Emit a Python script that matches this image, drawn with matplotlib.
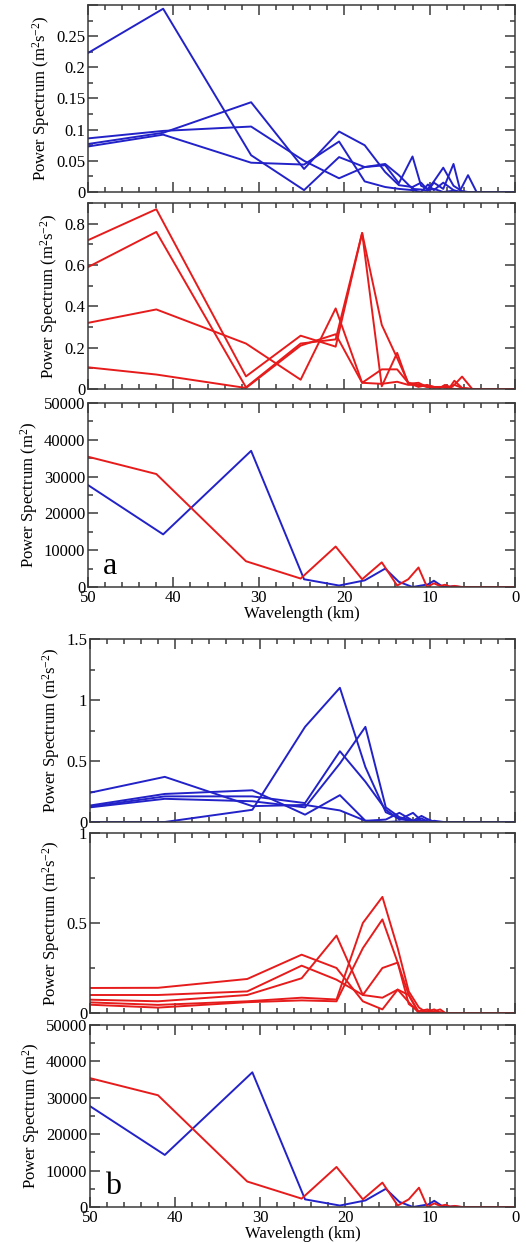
#!/usr/bin/env python3
# -*- coding: utf-8 -*-
import numpy as np
import matplotlib
matplotlib.use('Agg')
import matplotlib.pyplot as plt
from matplotlib.ticker import MultipleLocator, FuncFormatter

plt.rcParams['font.family'] = ['Liberation Serif', 'DejaVu Serif']
plt.rcParams['mathtext.fontset'] = 'custom'
plt.rcParams['mathtext.rm'] = 'Liberation Serif'
plt.rcParams['mathtext.it'] = 'Liberation Serif:italic'

BLUE = '#2222c8'
RED = '#e61c1c'
EDGE = '#3a3a3a'

# wavelength grids (km) for the two sets of curves
x_blue = [50, 41.2, 30.9, 24.7, 20.6, 17.6, 15.2, 13.6, 12.0, 11.0, 10.2, 9.5, 8.4, 7.2, 6.4, 5.5, 4.5, 0]
x_red = [50, 42.0, 31.5, 25.1, 21.0, 17.9, 15.6, 13.8, 12.5, 11.3, 10.3, 9.5, 8.8, 8.2, 7.6, 7.1, 6.2, 5.0, 3.0, 0]

# panel a1 (blue, m2 s-2)
a1_1 = [0.223, 0.294, 0.059, 0.003, 0.056, 0.040, 0.045, 0.027, 0.005, 0.004, 0.002, 0.015, 0.005, 0.045, 0.002, 0.0, 0.0, 0.0]
a1_2 = [0.086, 0.098, 0.105, 0.050, 0.022, 0.040, 0.043, 0.014, 0.057, 0.010, 0.005, 0.017, 0.039, 0.010, 0.003, 0.027, 0.0, 0.0]
a1_3 = [0.077, 0.095, 0.144, 0.037, 0.097, 0.075, 0.032, 0.011, 0.008, 0.015, 0.003, 0.005, 0.0, 0.002, 0.0, 0.0, 0.0, 0.0]
a1_4 = [0.073, 0.092, 0.047, 0.044, 0.081, 0.017, 0.008, 0.005, 0.003, 0.0, 0.012, 0.003, 0.015, 0.003, 0.0, 0.0, 0.0, 0.0]

# panel a2 (red, m2 s-2)
a2_1 = [0.72, 0.87, 0.061, 0.258, 0.205, 0.755, 0.31, 0.15, 0.03, 0.02, 0.015, 0.01, 0.01, 0.005, 0.01, 0.02, 0.005, 0.0, 0.0, 0.0]
a2_2 = [0.59, 0.76, 0.008, 0.22, 0.24, 0.755, 0.013, 0.175, 0.025, 0.03, 0.01, 0.005, 0.01, 0.01, 0.005, 0.02, 0.06, 0.0, 0.0, 0.0]
a2_3 = [0.32, 0.385, 0.22, 0.045, 0.39, 0.03, 0.095, 0.095, 0.03, 0.01, 0.02, 0.01, 0.005, 0.02, 0.01, 0.04, 0.005, 0.0, 0.0, 0.0]
a2_4 = [0.105, 0.07, 0.005, 0.21, 0.265, 0.03, 0.025, 0.035, 0.02, 0.02, 0.01, 0.01, 0.005, 0.015, 0.005, 0.0, 0.0, 0.0, 0.0, 0.0]

# panel a3 / b3 (m2)
h_blue = [27700, 14300, 37000, 2100, 400, 1800, 5000, 1400, 0, 400, 700, 1700, 0, 200, 0, 0, 0, 0]
h_red = [35400, 30700, 7000, 2300, 11000, 2100, 6700, 400, 2100, 5300, 0, 1000, 300, 600, 100, 300, 0, 0, 0, 0]

# panel b1 (blue, m2 s-2)
b1_1 = [0.24, 0.37, 0.13, 0.14, 0.095, 0.01, 0.0, 0.005, 0.0, 0.01, 0.0, 0.0, 0.0, 0.0, 0.0, 0.0, 0.0, 0.0]
b1_2 = [0.135, 0.23, 0.26, 0.06, 0.22, 0.01, 0.02, 0.075, 0.01, 0.0, 0.02, 0.0, 0.0, 0.0, 0.0, 0.0, 0.0, 0.0]
b1_3 = [0.125, 0.21, 0.21, 0.155, 0.58, 0.33, 0.10, 0.02, 0.075, 0.01, 0.0, 0.01, 0.0, 0.0, 0.0, 0.0, 0.0, 0.0]
b1_4 = [0.12, 0.19, 0.17, 0.12, 0.48, 0.78, 0.12, 0.04, 0.01, 0.05, 0.02, 0.0, 0.0, 0.0, 0.0, 0.0, 0.0, 0.0]
b1_5 = [0.0, 0.0, 0.10, 0.78, 1.10, 0.45, 0.08, 0.03, 0.0, 0.03, 0.0, 0.0, 0.0, 0.0, 0.0, 0.0, 0.0, 0.0]

# panel b2 (red, m2 s-2)
b2_1 = [0.139, 0.14, 0.189, 0.324, 0.25, 0.065, 0.02, 0.13, 0.10, 0.0, 0.01, 0.0, 0.005, 0.0, 0.0, 0.0, 0.0, 0.0, 0.0, 0.0]
b2_2 = [0.10, 0.10, 0.12, 0.263, 0.185, 0.10, 0.25, 0.28, 0.05, 0.01, 0.02, 0.005, 0.0, 0.0, 0.0, 0.0, 0.0, 0.0, 0.0, 0.0]
b2_3 = [0.074, 0.065, 0.10, 0.193, 0.43, 0.10, 0.085, 0.13, 0.06, 0.0, 0.01, 0.02, 0.0, 0.0, 0.0, 0.0, 0.0, 0.0, 0.0, 0.0]
b2_4 = [0.059, 0.045, 0.065, 0.085, 0.075, 0.50, 0.645, 0.36, 0.12, 0.03, 0.0, 0.01, 0.02, 0.0, 0.0, 0.0, 0.0, 0.0, 0.0, 0.0]
b2_5 = [0.046, 0.03, 0.06, 0.07, 0.065, 0.36, 0.52, 0.28, 0.10, 0.0, 0.005, 0.0, 0.0, 0.0, 0.0, 0.0, 0.0, 0.0, 0.0, 0.0]

YLAB_WIND = 'Power Spectrum (m$^2$s$^{-2}$)'
YLAB_H = 'Power Spectrum (m$^2$)'

W, H = 526, 1243


def make_axes(fig, left, top, bottom, right=515):
    return fig.add_axes([left / W, 1 - bottom / H, (right - left) / W, (bottom - top) / H])


def style(ax, ymax, ymajor, yminor, ylabel, show_x, hide_top_label=False):
    ax.set_xlim(50, 0)
    ax.set_ylim(0, ymax)
    ax.xaxis.set_major_locator(MultipleLocator(10))
    ax.xaxis.set_minor_locator(MultipleLocator(2))
    ax.yaxis.set_major_locator(MultipleLocator(ymajor))
    ax.yaxis.set_minor_locator(MultipleLocator(yminor))
    top = ymax
    fmt = lambda v, p: '' if (hide_top_label and abs(v - top) < 1e-9) else ('%g' % round(v, 6))
    ax.yaxis.set_major_formatter(FuncFormatter(fmt))
    ax.tick_params(which='both', direction='in', top=True, right=True, colors=EDGE,
                   labelcolor='k', labelsize=12, width=1.1, pad=2)
    ax.tick_params(which='major', length=7)
    ax.tick_params(which='minor', length=3.5)
    for s in ax.spines.values():
        s.set_color(EDGE)
        s.set_linewidth(1.1)
    ax.set_ylabel(YLAB_H if ylabel == 'h' else YLAB_WIND, fontsize=12, labelpad=3)
    if show_x:
        ax.set_xlabel('Wavelength (km)', fontsize=12, labelpad=0)
    else:
        ax.tick_params(labelbottom=False)


def main():
    fig = plt.figure(figsize=(W / 100, H / 100), dpi=100)
    lw = 1.4

    # group a
    ax = make_axes(fig, 88, 5, 192)
    for y in (a1_1, a1_2, a1_3, a1_4):
        ax.plot(x_blue, y, color=BLUE, lw=lw)
    style(ax, 0.3, 0.05, 0.025, 'w', False, hide_top_label=True)

    ax = make_axes(fig, 88, 203, 389)
    for y in (a2_1, a2_2, a2_3, a2_4):
        ax.plot(x_red, y, color=RED, lw=lw)
    style(ax, 0.9, 0.2, 0.1, 'w', False)

    ax = make_axes(fig, 88, 403, 587)
    ax.plot(x_blue, h_blue, color=BLUE, lw=lw)
    ax.plot(x_red, h_red, color=RED, lw=lw)
    style(ax, 50000, 10000, 5000, 'h', True)
    ax.text(0.035, 0.11, 'a', transform=ax.transAxes, fontsize=23, va='center', ha='left')

    # group b
    ax = make_axes(fig, 90, 639, 822)
    for y in (b1_1, b1_2, b1_3, b1_4, b1_5):
        ax.plot(x_blue, y, color=BLUE, lw=lw)
    style(ax, 1.5, 0.5, 0.25, 'w', False)

    ax = make_axes(fig, 90, 833, 1013)
    for y in (b2_1, b2_2, b2_3, b2_4, b2_5):
        ax.plot(x_red, y, color=RED, lw=lw)
    style(ax, 1.0, 0.5, 0.25, 'w', False)

    ax = make_axes(fig, 90, 1025, 1207)
    ax.plot(x_blue, h_blue, color=BLUE, lw=lw)
    ax.plot(x_red, h_red, color=RED, lw=lw)
    style(ax, 50000, 10000, 5000, 'h', True)
    ax.text(0.035, 0.11, 'b', transform=ax.transAxes, fontsize=23, va='center', ha='left')

    fig.savefig('out.png', dpi=100)
    plt.close('all')


if __name__ == "__main__":
    main()
